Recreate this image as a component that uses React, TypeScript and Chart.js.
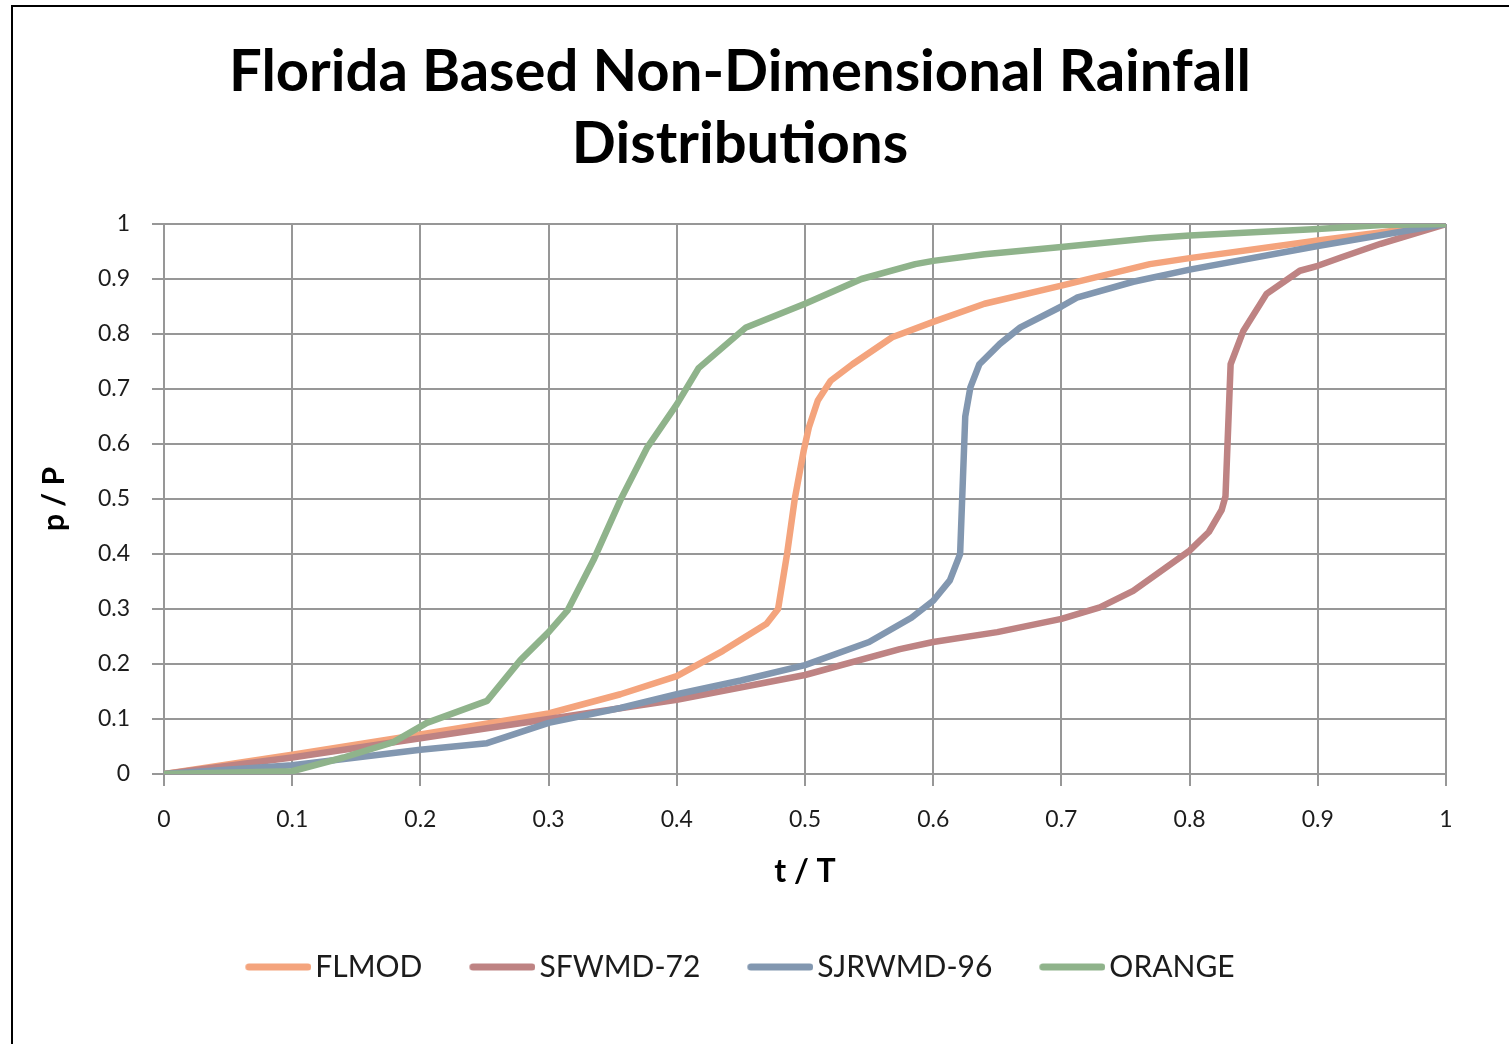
import { useEffect, useRef } from "react";
import { Chart, registerables } from "chart.js";

Chart.register(...registerables);

// Chart text
const chartTitle = ["Florida Based Non-Dimensional Rainfall", "Distributions"];
const xAxisTitle = "t / T";
const yAxisTitle = "p / P";

// Series labels and colours
const seriesNames = ["FLMOD", "SFWMD-72", "SJRWMD-96", "ORANGE"];
const seriesColors = ["#F4A47D", "#BE8383", "#8297B0", "#8FB38B"];

// FLMOD cumulative distribution (t/T, p/P)
const flmodT = [0, 0.1, 0.2, 0.3, 0.356, 0.4, 0.436, 0.47, 0.479, 0.486, 0.492, 0.499, 0.503, 0.51, 0.52, 0.537, 0.568, 0.6, 0.64, 0.7, 0.769, 0.8, 0.9, 1];
const flmodP = [0, 0.035, 0.072, 0.11, 0.145, 0.178, 0.224, 0.273, 0.3, 0.4, 0.5, 0.588, 0.63, 0.679, 0.715, 0.745, 0.794, 0.822, 0.855, 0.888, 0.927, 0.938, 0.97, 1];

// SFWMD-72 cumulative distribution
const sfwmdT = [0, 0.1, 0.2, 0.3, 0.4, 0.5, 0.574, 0.6, 0.65, 0.7, 0.73, 0.756, 0.782, 0.8, 0.815, 0.825, 0.828, 0.832, 0.842, 0.86, 0.886, 0.9, 0.918, 0.949, 1];
const sfwmdP = [0, 0.03, 0.065, 0.1, 0.135, 0.18, 0.227, 0.24, 0.258, 0.282, 0.303, 0.333, 0.376, 0.406, 0.44, 0.48, 0.505, 0.745, 0.806, 0.873, 0.915, 0.924, 0.939, 0.964, 1];

// SJRWMD-96 cumulative distribution
const sjrwmdT = [0, 0.1, 0.2, 0.252, 0.3, 0.356, 0.4, 0.45, 0.5, 0.55, 0.583, 0.6, 0.613, 0.621, 0.625, 0.629, 0.636, 0.652, 0.668, 0.7, 0.712, 0.756, 0.8, 0.9, 1];
const sjrwmdP = [0, 0.016, 0.044, 0.056, 0.093, 0.12, 0.145, 0.17, 0.198, 0.24, 0.284, 0.315, 0.352, 0.4, 0.65, 0.703, 0.745, 0.782, 0.812, 0.85, 0.866, 0.895, 0.917, 0.96, 1];

// ORANGE cumulative distribution
const orangeT = [0, 0.1, 0.14, 0.179, 0.205, 0.252, 0.278, 0.3, 0.315, 0.335, 0.356, 0.377, 0.4, 0.417, 0.454, 0.5, 0.544, 0.586, 0.6, 0.64, 0.7, 0.769, 0.8, 0.9, 0.95, 1];
const orangeP = [0, 0.005, 0.03, 0.058, 0.093, 0.133, 0.207, 0.258, 0.298, 0.389, 0.498, 0.594, 0.672, 0.738, 0.812, 0.855, 0.9, 0.927, 0.933, 0.945, 0.958, 0.974, 0.979, 0.991, 0.998, 1];

const seriesT = [flmodT, sfwmdT, sjrwmdT, orangeT];
const seriesP = [flmodP, sfwmdP, sjrwmdP, orangeP];

const CANVAS_W = 1480;
const CANVAS_H = 1044;
const GRID_COLOR = "#979797";
const TEXT_COLOR = "#1c1c1c";
const FONT = "Lato, 'Open Sans', sans-serif";

// Short line swatch used as the legend marker
function makeSwatch(color: string): HTMLCanvasElement {
  const c = document.createElement("canvas");
  c.width = 77;
  c.height = 12;
  const ctx = c.getContext("2d")!;
  ctx.strokeStyle = color;
  ctx.lineWidth = 7;
  ctx.lineCap = "round";
  ctx.beginPath();
  ctx.moveTo(14.5, 6);
  ctx.lineTo(73.5, 6);
  ctx.stroke();
  return c;
}

const formatTick = (v: number | string) => String(Math.round(Number(v) * 10) / 10);

export default function App() {
  const canvasRef = useRef<HTMLCanvasElement | null>(null);

  useEffect(() => {
    if (!canvasRef.current) return;
    const datasets = seriesNames.map((name, i) => ({
      label: name,
      data: seriesT[i].map((t, j) => ({ x: t, y: seriesP[i][j] })),
      borderColor: seriesColors[i],
      backgroundColor: seriesColors[i],
      borderWidth: 6.5,
      borderJoinStyle: "round" as const,
      borderCapStyle: "round" as const,
      pointRadius: 0,
      pointHoverRadius: 0,
      pointStyle: makeSwatch(seriesColors[i]),
      tension: 0,
      fill: false,
      order: seriesNames.length - i,
    }));

    const chart = new Chart(canvasRef.current, {
      type: "line",
      data: { datasets },
      options: {
        responsive: false,
        animation: false,
        events: [],
        layout: { padding: { left: 17, right: 17, top: 0, bottom: 52 } },
        plugins: {
          title: {
            display: true,
            text: chartTitle,
            color: "#000",
            font: { family: FONT, weight: "bold", size: 58, lineHeight: 1.25 },
            padding: { top: 36, bottom: 43 },
          },
          legend: {
            display: true,
            position: "bottom",
            labels: {
              usePointStyle: true,
              pointStyleWidth: 55,
              color: TEXT_COLOR,
              font: { family: FONT, size: 30 },
              padding: 47,
              sort: (a: any, b: any) => a.datasetIndex - b.datasetIndex,
            },
          },
          tooltip: { enabled: false },
        },
        scales: {
          x: {
            type: "linear",
            min: 0,
            max: 1,
            ticks: {
              stepSize: 0.1,
              padding: 20,
              color: TEXT_COLOR,
              font: { family: FONT, size: 23 },
              callback: formatTick,
            },
            grid: { color: GRID_COLOR, lineWidth: 2, tickLength: 12 },
            border: { color: GRID_COLOR, width: 2 },
            title: {
              display: true,
              text: xAxisTitle,
              color: "#000",
              font: { family: FONT, weight: "bold", size: 32, lineHeight: 1.2 },
              padding: { top: 0, bottom: 14 },
            },
            afterFit: (s: any) => {
              s.height = 131;
              s.paddingRight = 34;
            },
          },
          y: {
            type: "linear",
            min: 0,
            max: 1,
            ticks: {
              stepSize: 0.1,
              padding: 22,
              color: TEXT_COLOR,
              font: { family: FONT, size: 23 },
              callback: formatTick,
            },
            grid: { color: GRID_COLOR, lineWidth: 2, tickLength: 12 },
            border: { color: GRID_COLOR, width: 2 },
            title: {
              display: true,
              text: yAxisTitle,
              color: "#000",
              font: { family: FONT, weight: "bold", size: 30, lineHeight: 1.2 },
              padding: { top: 19, bottom: 0 },
            },
            afterFit: (s: any) => {
              s.width = 147;
            },
          },
        },
      },
    });
    return () => chart.destroy();
  }, []);

  return (
    <div style={{ position: "fixed", left: 0, top: 0, width: 1509, height: 1044, overflow: "hidden", background: "#fff" }}>
      <div
        style={{
          position: "absolute",
          left: 11,
          top: 5,
          width: 1600,
          height: 1200,
          border: "2px solid #000",
          boxSizing: "border-box",
        }}
      />
      <canvas
        ref={canvasRef}
        width={CANVAS_W}
        height={CANVAS_H}
        style={{ position: "absolute", left: 0, top: 0, width: CANVAS_W, height: CANVAS_H }}
      />
    </div>
  );
}
